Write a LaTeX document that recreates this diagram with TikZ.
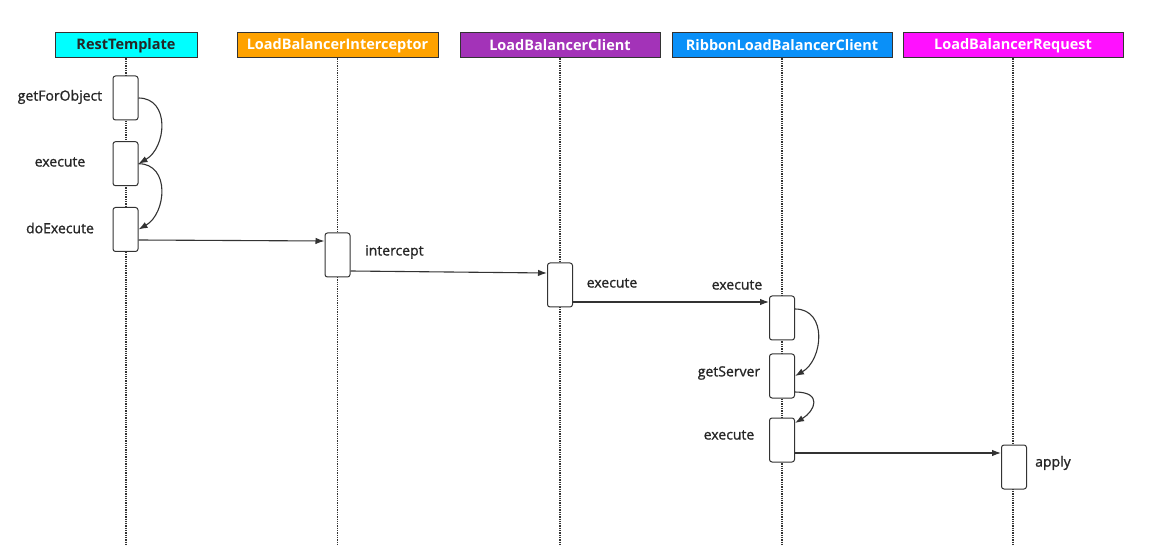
\documentclass[tikz,border=0pt]{standalone}
\usepackage{fontspec}
\setmainfont{Open Sans}
\newfontfamily\lblfont{Open Sans}[BoldFont={Open Sans}, BoldFeatures={FakeBold=1.2}]
\usetikzlibrary{arrows.meta, positioning}

\definecolor{rtcyan}{HTML}{00FFFF}
\definecolor{lbiorange}{HTML}{FFA200}
\definecolor{lbcpurple}{HTML}{A333B8}
\definecolor{rlbblue}{HTML}{0A90F8}
\definecolor{reqmagenta}{HTML}{FF11FF}
\definecolor{linegray}{HTML}{333333}

\begin{document}
\begin{tikzpicture}[x=1pt, y=-1pt,
    head/.style={draw=linegray, line width=1pt, minimum height=25pt, inner sep=0pt,
        font=\bfseries\fontsize{14.5}{16}\selectfont, text=white},
    act/.style={draw=linegray, line width=1pt, fill=white, rounded corners=2.5pt,
        minimum width=25pt, minimum height=44pt, inner sep=0pt},
    life/.style={densely dotted, line width=1.3pt, linegray},
    msg/.style={-{Latex[length=9pt, width=6.5pt]}, line width=1.1pt, linegray},
    lbl/.style={font=\lblfont\bfseries\fontsize{14}{16}\selectfont, text=black!85, inner sep=0pt}]
    \useasboundingbox (0, 0) rectangle (1173, 545);
    \coordinate (bottom) at (0, 545);

    % Heads
    \node[head, fill=rtcyan, text=black!85, minimum width=142pt] (rt) at (126, 45.5) {RestTemplate};
    \node[head, fill=lbiorange, minimum width=201pt] (lbi) at (337.5, 45.5) {LoadBalancerInterceptor};
    \node[head, fill=lbcpurple, minimum width=200pt] (lbc) at (560, 45.5) {LoadBalancerClient};
    \node[head, fill=rlbblue, minimum width=220pt] (rlb) at (782, 45.5) {RibbonLoadBalancerClient};
    \node[head, fill=reqmagenta, minimum width=220pt] (req) at (1013, 45.5) {LoadBalancerRequest};

    % Lifelines
    \foreach \h in {rt, lbi, lbc, rlb, req}
        \draw[life] (\h.south) -- (\h.south |- bottom);

    % Activations
    \node[act] (rt1) at (125.5, 98) {};
    \node[act] (rt2) at (125.5, 163.7) {};
    \node[act] (rt3) at (125.5, 229.5) {};
    \node[act] (lbi1) at (337.5, 255) {};
    \node[act] (lbc1) at (560, 285) {};
    \node[act] (rlb1) at (782, 318) {};
    \node[act] (rlb2) at (782, 376) {};
    \node[act] (rlb3) at (782, 440) {};
    \node[act] (req1) at (1014, 467) {};

    % Labels
    \node[lbl] (getforobject) at (60, 97) {getForObject};
    \node[lbl] (rtexecute) at (60, 162) {execute};
    \node[lbl] (doexecute) at (60, 228) {doExecute};
    \node[lbl, anchor=west] (intercept) at (365, 252) {intercept};
    \node[lbl] (lbcexecute) at (612, 283) {execute};
    \node[lbl] (rlbexecute) at (737, 285) {execute};
    \node[lbl] (getserver) at (729, 373) {getServer};
    \node[lbl] (rlbexecutetwo) at (729, 435) {execute};
    \node[lbl, anchor=west] (apply) at (1035, 463) {apply};

    % Self calls
    \draw[msg] (rt1.east) .. controls +(32, 0) and +(28, -16) .. (rt2.east);
    \draw[msg] (rt2.east) .. controls +(32, 0) and +(28, -16) .. (rt3.east);
    \draw[msg] ([yshift=9pt]rlb1.east) .. controls +(33, 0) and +(28, -16) .. (rlb2.east);
    \draw[msg] ([yshift=-16pt]rlb2.east) .. controls +(28, 0) and +(20, -12) .. ([yshift=17pt]rlb3.east);

    % Calls
    \draw[msg] ([yshift=-10.5pt]rt3.east) -- ([yshift=14pt]lbi1.west);
    \draw[msg] ([yshift=-16pt]lbi1.east) -- ([yshift=12pt]lbc1.west);
    \draw[msg] ([yshift=-17pt]lbc1.east) -- ([yshift=16pt]rlb1.west);
    \draw[msg] ([yshift=-13pt]rlb3.east) -- ([yshift=14pt]req1.west);
\end{tikzpicture}
\end{document}
